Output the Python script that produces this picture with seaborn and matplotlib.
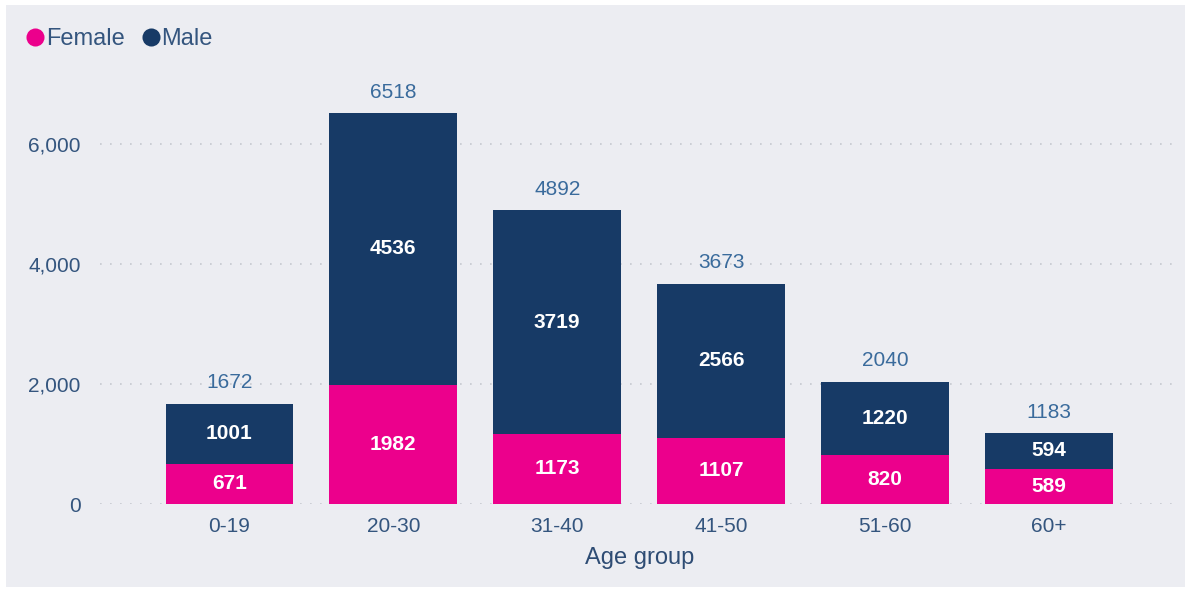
import matplotlib
matplotlib.use("Agg")
import matplotlib.pyplot as plt
from matplotlib.patches import Rectangle
from matplotlib.lines import Line2D
import seaborn as sns
import pandas as pd

age_groups = ["0-19", "20-30", "31-40", "41-50", "51-60", "60+"]
female = [671, 1982, 1173, 1107, 820, 589]
male = [1001, 4536, 3719, 2566, 1220, 594]
totals = [f + m for f, m in zip(female, male)]

FEMALE_C = "#EC008C"
MALE_C = "#173A66"
BG = "#ECEDF2"
TICK_C = "#34557E"
TOTAL_C = "#3A6B9C"

sns.set_theme(style="white")
plt.rcParams["font.family"] = ["Liberation Sans", "DejaVu Sans"]

fig = plt.figure(figsize=(11.91, 5.90), dpi=100)
fig.patch.set_facecolor("white")
fig.patches.append(Rectangle((6 / 1191, 3 / 590), 1179 / 1191, 582 / 590,
                             transform=fig.transFigure, facecolor=BG,
                             edgecolor="none", zorder=-10))
ax = fig.add_axes([100 / 1191, 1 - 504 / 590, 1080 / 1191, (504 - 60) / 590])
ax.set_facecolor("none")

df = pd.DataFrame({"age": age_groups, "female": female, "male": male, "total": totals})

sns.barplot(data=df, x="age", y="total", color=MALE_C, width=0.78,
            saturation=1, linewidth=0, ax=ax, zorder=3)
sns.barplot(data=df, x="age", y="female", color=FEMALE_C, width=0.78,
            saturation=1, linewidth=0, ax=ax, zorder=4)

for i in range(len(age_groups)):
    ax.text(i, female[i] / 2, str(female[i]), ha="center", va="center",
            color="white", fontsize=15, fontweight="bold", zorder=5)
    ax.text(i, female[i] + male[i] / 2, str(male[i]), ha="center", va="center",
            color="white", fontsize=15, fontweight="bold", zorder=5)
    ax.text(i, totals[i] + 190, str(totals[i]), ha="center", va="bottom",
            color=TOTAL_C, fontsize=15, zorder=5)

ax.set_ylim(0, 7400)
ax.set_xlim(-0.79, 5.8)
ax.set_yticks([0, 2000, 4000, 6000])
ax.set_yticklabels(["0", "2,000", "4,000", "6,000"])
ax.grid(axis="y", color="#C5C8D0", linestyle=(0, (1, 5)), linewidth=1.2, zorder=0)
ax.grid(axis="x", visible=False)
for s in ax.spines.values():
    s.set_visible(False)
ax.tick_params(axis="both", length=0, labelsize=15, colors=TICK_C)
ax.tick_params(axis="y", pad=14)
ax.tick_params(axis="x", pad=9)
ax.set_ylabel("")
ax.set_xlabel("Age group", fontsize=17, color="#2E4C74", labelpad=8)

handles = [Line2D([], [], marker="o", linestyle="none", markersize=13,
                  markerfacecolor=FEMALE_C, markeredgecolor="none"),
           Line2D([], [], marker="o", linestyle="none", markersize=13,
                  markerfacecolor=MALE_C, markeredgecolor="none")]
leg = fig.legend(handles, ["Female", "Male"], loc="center left",
                 bbox_to_anchor=(21 / 1191, 1 - 39 / 590), ncol=2, frameon=False,
                 handletextpad=-0.15, columnspacing=0.5, handlelength=1.2,
                 fontsize=17, borderaxespad=0, borderpad=0)
for t in leg.get_texts():
    t.set_color(TICK_C)

fig.savefig("out.png", dpi=100, facecolor=fig.get_facecolor())
